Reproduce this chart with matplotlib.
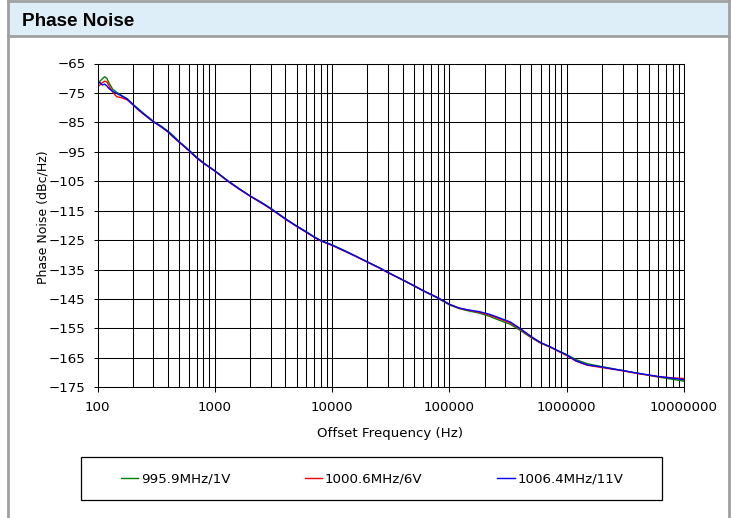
import matplotlib
matplotlib.use('Agg')
import matplotlib.pyplot as plt
import numpy as np
from matplotlib.ticker import LogLocator, NullFormatter
from matplotlib.patches import Rectangle
from matplotlib.lines import Line2D

# 数据
freq = [100, 105, 110, 115, 120, 125, 135, 146, 160, 180, 200, 220, 250, 300, 350,
        400, 440, 500, 600, 700, 800, 1000, 1300, 1600, 2000, 2500, 3000, 4000, 5000,
        6000, 7000, 8000, 10000, 13000, 16000, 20000, 25000, 30000, 40000, 50000,
        60000, 70000, 80000, 100000, 120000, 140000, 180000, 220000, 270000, 330000,
        400000, 500000, 600000, 720000, 850000, 1000000, 1200000, 1500000, 2000000,
        2500000, 3000000, 4000000, 5000000, 6000000, 8000000, 10000000]

pn_1v = [-72.2, -71.0, -70.2, -69.5, -70.0, -71.5, -73.8, -74.8, -75.8, -77.0, -78.8,
         -80.2, -82.1, -84.6, -86.3, -88.0, -89.4, -91.6, -94.3, -96.8, -98.7, -101.4,
         -104.9, -107.4, -110.0, -112.2, -114.2, -117.7, -120.2, -122.1, -123.8, -125.1,
         -126.6, -128.7, -130.5, -132.4, -134.3, -136.0, -138.6, -140.6, -142.3, -143.6,
         -144.8, -147.0, -148.2, -148.9, -149.8, -150.9, -152.3, -153.6, -155.6, -158.2,
         -160.0, -161.3, -162.6, -163.9, -165.6, -167.0, -168.0, -168.7, -169.3, -170.2,
         -170.9, -171.5, -172.3, -172.9]

pn_6v = [-72.9, -72.3, -71.5, -71.0, -71.2, -72.5, -74.8, -76.3, -76.6, -77.4, -79.0,
         -80.6, -82.4, -84.8, -86.6, -88.3, -89.9, -91.8, -94.6, -97.1, -98.9, -101.5,
         -105.1, -107.6, -110.1, -112.4, -114.4, -117.9, -120.4, -122.3, -124.0, -125.3,
         -126.8, -128.9, -130.6, -132.5, -134.4, -136.1, -138.5, -140.5, -142.2, -143.5,
         -144.6, -146.8, -148.1, -148.7, -149.5, -150.5, -151.8, -153.1, -155.2, -158.0,
         -159.9, -161.3, -162.8, -164.2, -166.1, -167.5, -168.3, -168.9, -169.4, -170.3,
         -170.9, -171.4, -171.8, -172.0]

pn_11v = [-71.7, -71.5, -72.3, -72.0, -72.6, -73.5, -74.5, -75.2, -76.0, -77.2, -78.9,
          -80.4, -82.3, -84.8, -86.5, -88.2, -89.8, -91.8, -94.5, -97.0, -98.8, -101.5,
          -105.0, -107.5, -110.0, -112.3, -114.3, -117.8, -120.3, -122.2, -123.9, -125.2,
          -126.7, -128.8, -130.5, -132.4, -134.3, -136.0, -138.5, -140.5, -142.2, -143.5,
          -144.6, -146.8, -148.0, -148.6, -149.3, -150.2, -151.5, -152.8, -155.0, -157.8,
          -159.8, -161.2, -162.7, -164.0, -166.0, -167.4, -168.1, -168.8, -169.3, -170.2,
          -170.8, -171.3, -171.9, -172.4]

series = [
    ("995.9MHz/1V", pn_1v, "#008000"),
    ("1000.6MHz/6V", pn_6v, "#FF0000"),
    ("1006.4MHz/11V", pn_11v, "#0000FF"),
]

y_ticks = list(range(-65, -176, -10))
x_ticks = [100, 1000, 10000, 100000, 1000000, 10000000]
x_labels = ["100", "1000", "10000", "100000", "1000000", "10000000"]

W, H = 731, 518
fig = plt.figure(figsize=(W / 100, H / 100), dpi=100)

def fx(px):
    return px / W

def fy(py):
    return 1 - py / H

# 外框和标题栏
fig.patches.append(Rectangle((fx(8), fy(36)), fx(721), fy(0) - fy(36), transform=fig.transFigure,
                             facecolor="#DDEEF8", edgecolor="none", zorder=0))
for xs, ys in [([8, 8], [0, 530]), ([729, 729], [0, 530]), ([8, 729], [0.8, 0.8]), ([8, 729], [36, 36])]:
    fig.lines.append(Line2D([fx(x) for x in xs], [fy(y) for y in ys], transform=fig.transFigure,
                            color="#A0A0A0", linewidth=2.0))
fig.text(fx(22), fy(26), "Phase Noise", family="Liberation Sans", weight="bold",
         fontsize=13.6, va="baseline", ha="left")

# 绘图区
ax = fig.add_axes([fx(97.5), fy(387.3), fx(684) - fx(97.5), fy(63.5) - fy(387.3)])
for label, vals, color in series:
    ax.plot(freq, vals, color=color, linewidth=1.0, label=label)

ax.set_xscale("log")
ax.set_xlim(100, 1e7)
ax.set_ylim(-175, -65)
ax.set_xticks(x_ticks)
ax.set_xticklabels(x_labels)
ax.xaxis.set_minor_locator(LogLocator(base=10, subs=np.arange(2, 10)))
ax.xaxis.set_minor_formatter(NullFormatter())
ax.set_yticks(y_ticks)
ax.tick_params(axis="x", which="major", length=3.6, width=0.75, pad=6, labelsize=9.6)
ax.tick_params(axis="x", which="minor", length=0)
ax.tick_params(axis="y", length=2.6, width=0.75, pad=6, labelsize=9.6)
ax.grid(True, which="both", axis="x", color="black", linewidth=0.75)
ax.grid(True, which="major", axis="y", color="black", linewidth=0.75)
ax.set_axisbelow(True)
for sp in ax.spines.values():
    sp.set_linewidth(0.75)
    sp.set_color("black")

fig.text(fx(43), fy(217), "Phase Noise (dBc/Hz)", rotation=90, ha="center", va="center", fontsize=9.0)
fig.text(fx(390), fy(433), "Offset Frequency (Hz)", ha="center", va="center", fontsize=9.6)

# 图例
fig.patches.append(Rectangle((fx(81.3), fy(500)), fx(661.7) - fx(81.3), fy(457.3) - fy(500),
                             transform=fig.transFigure, facecolor="white", edgecolor="black",
                             linewidth=0.9))
handles, labels = ax.get_legend_handles_labels()
fig.legend(handles, labels, loc="center", bbox_to_anchor=(fx(372), fy(478.7)), ncol=3,
           frameon=False, fontsize=9.6, handlelength=1.3, handletextpad=0.2,
           columnspacing=5.6, borderpad=0)

fig.savefig("out.png", dpi=100)
